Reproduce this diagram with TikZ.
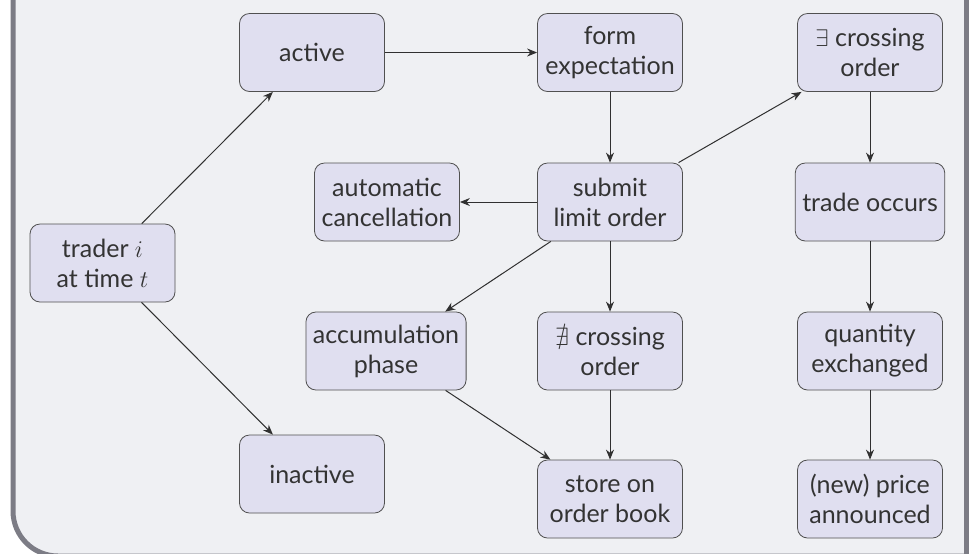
\documentclass[tikz,border=0pt]{standalone}
\usepackage{amsmath,amssymb}
\usepackage{fontspec}
\setmainfont{Lato}
\usetikzlibrary{arrows.meta}

\definecolor{framebg}{HTML}{EFF0F3}
\definecolor{framedraw}{HTML}{7C7C85}
\definecolor{boxfill}{HTML}{E0DFF0}
\definecolor{boxdraw}{HTML}{505050}
\definecolor{arrcol}{HTML}{303030}

\begin{document}
\begin{tikzpicture}[
    x=0.5pt, y=-0.5pt,
    font=\fontsize{12.5}{15}\selectfont,
    stbox/.style={draw=boxdraw, fill=boxfill, rounded corners=5pt,
                  minimum width=72.5pt, minimum height=39pt,
                  inner xsep=3.5pt, align=center, text=black!80},
    flowarr/.style={-{Stealth[length=5pt,width=4pt]}, arrcol, line width=0.5pt}
  ]
    \useasboundingbox (0,0) rectangle (969,553);
    \clip (0,0) rectangle (969,553);
    % frame
    \fill[white] (0,0) rectangle (969,553);
    \draw[framedraw, fill=framebg, line width=2.5pt, rounded corners=22.5pt]
      (1100,-60) -- (13,-60) -- (13,556) -- (1100,556);
    \draw[framedraw, line width=2.5pt] (966,-60) -- (966,600);

    \node[stbox] (trader) at (102.5,263) {trader $i$\\at time $t$};
    \node[stbox] (active) at (312,52.5) {active};
    \node[stbox] (inactive) at (312,474) {inactive};
    \node[stbox] (expect) at (610,52.5) {form\\expectation};
    \node[stbox] (submit) at (610,202) {submit\\limit order};
    \node[stbox] (cancel) at (387,202) {automatic\\cancellation};
    \node[stbox] (accum) at (386,351) {accumulation\\phase};
    \node[stbox] (nocross) at (610,351) {$\nexists$ crossing\\order};
    \node[stbox] (store) at (610,499) {store on\\order book};
    \node[stbox] (cross) at (870,52.5) {$\exists$ crossing\\order};
    \node[stbox] (trade) at (870,202) {trade occurs};
    \node[stbox] (qty) at (870,351) {quantity\\exchanged};
    \node[stbox] (price) at (870,499) {(new) price\\announced};

    \draw[flowarr] (trader) -- (active);
    \draw[flowarr] (trader) -- (inactive);
    \draw[flowarr] (active) -- (expect);
    \draw[flowarr] (expect) -- (submit);
    \draw[flowarr] (submit) -- (cancel);
    \draw[flowarr] (submit) -- (cross);
    \draw[flowarr] (submit) -- (accum);
    \draw[flowarr] (submit) -- (nocross);
    \draw[flowarr] (accum) -- (store);
    \draw[flowarr] (nocross) -- (store);
    \draw[flowarr] (cross) -- (trade);
    \draw[flowarr] (trade) -- (qty);
    \draw[flowarr] (qty) -- (price);
  \end{tikzpicture}
\end{document}
